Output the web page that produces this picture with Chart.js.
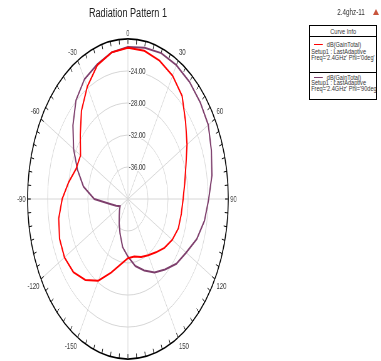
<!DOCTYPE html>
<html>
<head>
<meta charset="utf-8">
<script src="https://cdn.jsdelivr.net/npm/chart.js@4/dist/chart.umd.min.js"></script>
<style>
  html, body { margin: 0; padding: 0; background: #fff; overflow: hidden; width: 381px; height: 361px; }
  body { position: relative; font-family: "Liberation Sans", Arial, sans-serif; color: #333; }
  #stage { position: absolute; left: 0; top: 0; width: 608px; height: 361px; transform: scaleX(0.627); transform-origin: 0 0; }
  #polar { position: absolute; left: 0; top: 27px; }
  .title { position: absolute; left: 28px; top: 6px; width: 200px; text-align: center; font-size: 12px; line-height: 14px; color: #222; transform: scaleX(0.76); transform-origin: 50% 0; white-space: nowrap; }
  .design { position: absolute; left: 301px; top: 7px; width: 100px; text-align: center; font-size: 9px; line-height: 11px; color: #333; transform: scaleX(0.7); transform-origin: 50% 0; white-space: nowrap; }
  .icon { position: absolute; left: 373px; top: 9px; width: 0; height: 0; border-left: 3px solid transparent; border-right: 3px solid transparent; border-bottom: 6px solid #c8553d; }
  .box { position: absolute; left: 309px; top: 25px; width: 66px; height: 73px; border: 1px solid #000; background: #fff; overflow: hidden; }
  .inner { position: absolute; left: 0; top: 0; width: 83px; height: 75px; transform: scaleX(0.8); transform-origin: 0 0; font-size: 7px; line-height: 7px; color: #333; white-space: nowrap; }
  .row { position: absolute; left: 1.5px; }
  .hdr { position: absolute; left: 0; width: 83px; text-align: center; }
  .div { position: absolute; left: -2px; width: 90px; height: 0; border-top: 1px solid #000; }
  .sw { position: absolute; left: 5px; width: 11px; height: 0; border-top: 1.5px solid; }
</style>
</head>
<body>
<div id="stage">
  <canvas id="polar" width="408" height="344"></canvas>
</div>
<div class="title">Radiation Pattern 1</div>
<div class="design">2.4ghz-11</div>
<div class="icon"></div>
<div class="box">
  <div class="inner">
    <div class="hdr" style="top:1.5px">Curve Info</div>
    <div class="div" style="top:10px"></div>
    <div class="sw" style="top:17.5px;border-color:#ff0000"></div>
    <div class="row" style="left:21px;top:14.5px">dB(GainTotal)</div>
    <div class="row" style="top:21.5px">Setup1 : LastAdaptive</div>
    <div class="row" style="top:27.5px">Freq='2.4GHz' Phi='0deg'</div>
    <div class="div" style="top:46px"></div>
    <div class="sw" style="top:50.5px;border-color:#7d3e6c"></div>
    <div class="row" style="left:21px;top:47.5px">dB(GainTotal)</div>
    <div class="row" style="top:53px">Setup1 : LastAdaptive</div>
    <div class="row" style="top:59px">Freq='2.4GHz' Phi='90deg'</div>
  </div>
</div>
<script>
// Theta angles (degrees), clockwise from the top of the plot
const angleLabels = [0, 10, 20, 30, 40, 50, 60, 70, 80, 90, 100, 110, 120, 130, 140, 150, 160, 170, 180,
                     -170, -160, -150, -140, -130, -120, -110, -100, -90, -80, -70, -60, -50, -40, -30, -20, -10];

// dB(GainTotal), Phi = 0deg
const gainPhi0 = [-21.1, -21.2, -21.6, -22.2, -23.2, -25.0, -26.4, -27.7, -28.5, -29.0, -29.2, -29.3, -29.8,
                  -30.5, -31.3, -31.9, -32.3, -32.7, -32.6, -31.7, -30.2, -28.2, -26.8, -25.8, -25.4, -25.5,
                  -26.0, -26.9, -28.0, -29.0, -29.1, -27.6, -25.6, -23.8, -22.2, -21.4];

// dB(GainTotal), Phi = 90deg
const gainPhi90 = [-21.0, -20.8, -20.6, -20.7, -20.9, -21.2, -21.5, -22.3, -23.0, -23.9, -24.5, -25.4, -26.6,
                   -27.4, -28.5, -29.4, -30.5, -31.5, -32.8, -33.9, -35.4, -36.5, -37.3, -37.8, -38.2, -37.5,
                   -36.4, -33.3, -31.0, -29.3, -27.5, -25.7, -23.9, -22.7, -22.1, -21.4];

// Labelled angles on the rim and labelled rings
const angleTickLabels = [0, 30, 60, 90, 120, 150, 180, -150, -120, -90, -60, -30];
const ringLabels = [-36, -32, -28, -24];
const ringMin = -40, ringMax = -20, ringStep = 4;

const FONT = '"Liberation Sans", Arial, sans-serif';

// Rim tick marks every 5 degrees plus the ring values along the 0deg spoke
const polarDecor = {
  id: 'polarDecor',
  beforeDatasetsDraw(chart) {
    const s = chart.scales.r;
    const ctx = chart.ctx;
    const n = chart.data.labels.length;
    ctx.save();
    ctx.strokeStyle = '#000';
    ctx.lineWidth = 1;
    for (let k = 0; k < 72; k++) {
      const idx = k * n / 72;
      const a = s.getPointPosition(idx, s.drawingArea);
      const b = s.getPointPosition(idx, s.drawingArea - 5);
      ctx.beginPath();
      ctx.moveTo(a.x, a.y);
      ctx.lineTo(b.x, b.y);
      ctx.stroke();
    }
    ctx.font = '8.5px ' + FONT;
    ctx.textBaseline = 'middle';
    ringLabels.forEach(v => {
      const d = s.getDistanceFromCenterForValue(v);
      const text = v.toFixed(2);
      ctx.save();
      ctx.translate(s.xCenter + 1.5, s.yCenter - d);
      ctx.scale(1.1, 1);
      const w = ctx.measureText(text).width;
      ctx.fillStyle = '#fff';
      ctx.fillRect(0, -4, w + 1, 8);
      ctx.fillStyle = '#444';
      ctx.fillText(text, 0, 0.5);
      ctx.restore();
    });
    ctx.restore();
  }
};

new Chart(document.getElementById('polar'), {
  type: 'radar',
  data: {
    labels: angleLabels,
    datasets: [
      { label: "dB(GainTotal) Phi='0deg'", data: gainPhi0, borderColor: '#ff0000' },
      { label: "dB(GainTotal) Phi='90deg'", data: gainPhi90, borderColor: '#7d3e6c' }
    ]
  },
  options: {
    responsive: false,
    animation: false,
    devicePixelRatio: 1,
    layout: { padding: 0 },
    plugins: { legend: { display: false }, title: { display: false }, tooltip: { enabled: false } },
    elements: {
      line: { tension: 0, borderWidth: 2, fill: false },
      point: { radius: 0, hitRadius: 0 }
    },
    scales: {
      r: {
        min: ringMin,
        max: ringMax,
        startAngle: 0,
        ticks: { display: false, stepSize: ringStep },
        grid: {
          circular: true,
          color: c => (c.tick && c.tick.value === ringMax) ? '#000' : '#d6d6d6',
          lineWidth: c => (c.tick && c.tick.value === ringMax) ? 1.6 : 1
        },
        angleLines: {
          color: '#d6d6d6',
          lineWidth: c => angleTickLabels.includes(angleLabels[c.index]) ? 1 : 0
        },
        pointLabels: {
          color: '#444',
          font: { size: 9.5, family: FONT },
          padding: c => (c.index === 0 || c.index === 18) ? 0 : 3,
          callback: label => angleTickLabels.includes(label) ? String(label) : ''
        }
      }
    }
  },
  plugins: [polarDecor]
});
</script>
</body>
</html>
